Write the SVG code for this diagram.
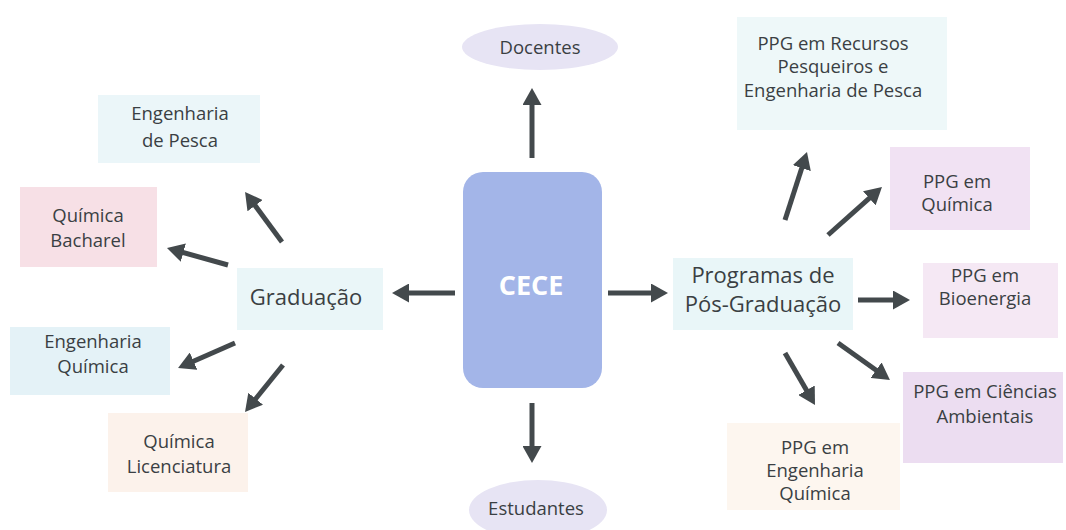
<svg xmlns="http://www.w3.org/2000/svg" width="1066" height="530" viewBox="0 0 1066 530">
<style>
.t{font-family:"Open Sans","DejaVu Sans",sans-serif;font-size:18.5px;fill:#3a3f43;text-anchor:middle}
.big{font-size:22px}
.cece{font-family:"Open Sans","DejaVu Sans",sans-serif;font-size:27px;font-weight:bold;fill:#ffffff;text-anchor:middle}
.ar{stroke:#43494c;stroke-width:5;fill:none;marker-end:url(#ah)}
</style>
<defs>
<marker id="ah" markerUnits="userSpaceOnUse" markerWidth="17" markerHeight="19" refX="7" refY="9.5" orient="auto">
<path d="M0,0 L17,9.5 L0,19 z" fill="#43494c"/>
</marker>
</defs>
<rect width="1066" height="530" fill="#ffffff"/>
<g id="cece"><rect x="463" y="172" width="139" height="216" rx="20" fill="#a3b5e8"/><text class="cece" x="531" y="295">CECE</text></g>
<g id="docentes"><ellipse cx="540" cy="47" rx="78" ry="23" fill="#e7e4f4"/><text class="t" x="540" y="54">Docentes</text></g>
<g id="estudantes"><ellipse cx="538" cy="510" rx="69" ry="30" fill="#e7e4f4"/><text class="t" x="536" y="515">Estudantes</text></g>
<g id="graduacao"><rect x="237" y="268" width="146" height="62" fill="#eaf6f8"/><text class="t big" x="306" y="305">Graduação</text></g>
<g id="eng-pesca"><rect x="98" y="95" width="162" height="68" fill="#ebf6f9"/><text class="t" x="180" y="120">Engenharia</text><text class="t" x="180" y="147">de Pesca</text></g>
<g id="quimica-bacharel"><rect x="20" y="187" width="137" height="80" fill="#f7e0e6"/><text class="t" x="88" y="222">Química</text><text class="t" x="88" y="247">Bacharel</text></g>
<g id="eng-quimica"><rect x="10" y="327" width="160" height="68" fill="#e4f2f7"/><text class="t" x="93" y="348">Engenharia</text><text class="t" x="93" y="373">Química</text></g>
<g id="quimica-licenciatura"><rect x="108" y="413" width="140" height="79" fill="#fcf2eb"/><text class="t" x="179" y="448">Química</text><text class="t" x="179" y="473">Licenciatura</text></g>
<g id="programas"><rect x="673" y="258" width="180" height="72" fill="#e9f6f8"/><text class="t big" x="763" y="283">Programas de</text><text class="t big" x="763" y="312">Pós-Graduação</text></g>
<g id="ppg-recursos"><rect x="737" y="17" width="210" height="113" fill="#eef8f9"/><text class="t" x="833" y="50">PPG em Recursos</text><text class="t" x="833" y="73">Pesqueiros e</text><text class="t" x="833" y="97">Engenharia de Pesca</text></g>
<g id="ppg-quimica"><rect x="890" y="147" width="140" height="83" fill="#f1e2f3"/><text class="t" x="957" y="188">PPG em</text><text class="t" x="957" y="211">Química</text></g>
<g id="ppg-bioenergia"><rect x="923" y="263" width="135" height="75" fill="#f5e8f4"/><text class="t" x="985" y="282">PPG em</text><text class="t" x="985" y="305">Bioenergia</text></g>
<g id="ppg-ciencias"><rect x="903" y="372" width="160" height="91" fill="#ecddf1"/><text class="t" x="985" y="398">PPG em Ciências</text><text class="t" x="985" y="423">Ambientais</text></g>
<g id="ppg-eng-quimica"><rect x="727" y="423" width="173" height="87" fill="#fdf6ef"/><text class="t" x="815" y="454">PPG em</text><text class="t" x="815" y="477">Engenharia</text><text class="t" x="815" y="500">Química</text></g>
<g id="connectors">
<line class="ar" x1="532" y1="158" x2="532" y2="98"/>
<line class="ar" x1="532" y1="403" x2="532" y2="453"/>
<line class="ar" x1="455" y1="293" x2="402" y2="293"/>
<line class="ar" x1="608" y1="293" x2="658" y2="293"/>
<line class="ar" x1="282" y1="242" x2="251" y2="200"/>
<line class="ar" x1="228" y1="265" x2="176.6" y2="250.7"/>
<line class="ar" x1="235" y1="343" x2="187.2" y2="364"/>
<line class="ar" x1="283" y1="365" x2="251.3" y2="404.2"/>
<line class="ar" x1="785" y1="220" x2="803.9" y2="161.5"/>
<line class="ar" x1="828" y1="235" x2="874.5" y2="193.6"/>
<line class="ar" x1="858" y1="300" x2="900" y2="300"/>
<line class="ar" x1="838" y1="343" x2="881.8" y2="374.2"/>
<line class="ar" x1="785" y1="353" x2="810" y2="396.3"/>
</g>
</svg>
